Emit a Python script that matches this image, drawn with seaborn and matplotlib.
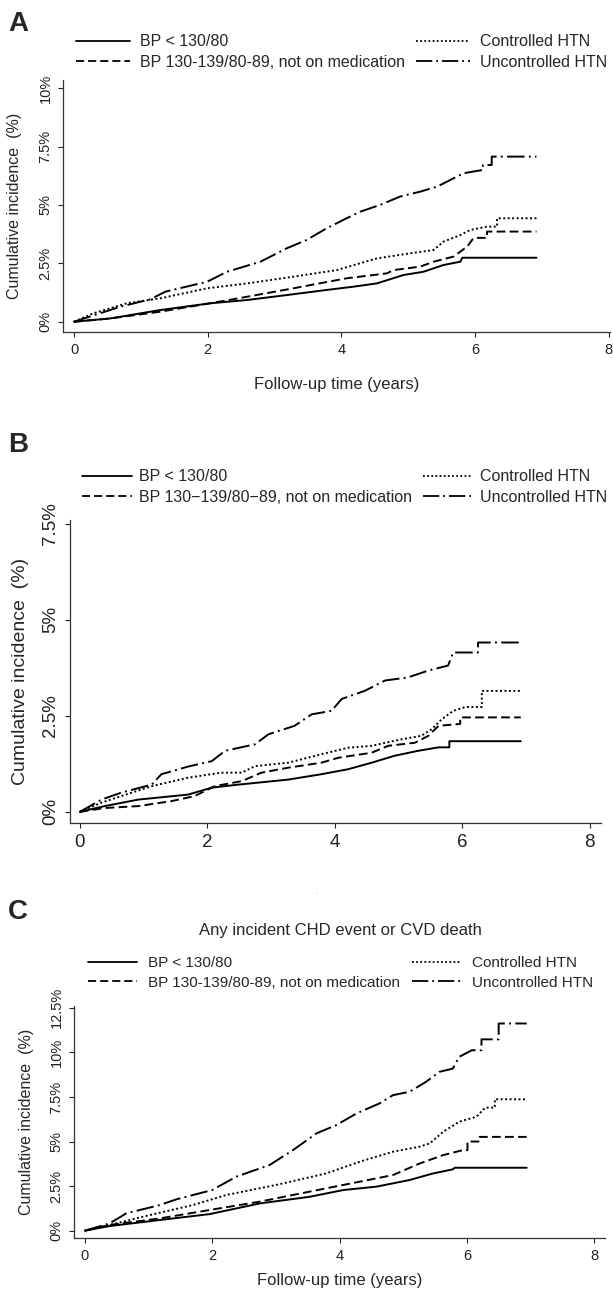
import pandas as pd
import seaborn as sns
import matplotlib.pyplot as plt

W, H = 613, 1292

groups = ['BP < 130/80', 'BP 130-139/80-89, not on medication',
          'Controlled HTN', 'Uncontrolled HTN']
groups_b = ['BP < 130/80', 'BP 130\u2212139/80\u221289, not on medication',
            'Controlled HTN', 'Uncontrolled HTN']

# panel A, cumulative incidence (%) vs follow-up years
a_bp_t = [0, 0.54, 1.29, 2.04, 2.59, 3.18, 3.78, 4.18, 4.53, 4.93, 5.23, 5.53, 5.78, 5.81, 6.92]
a_bp_y = [0, 0.14, 0.50, 0.79, 0.93, 1.14, 1.36, 1.50, 1.64, 2.00, 2.14, 2.43, 2.57, 2.74, 2.74]
a_pre_t = [0, 0.54, 1.29, 2.04, 2.59, 3.28, 4.08, 4.68, 4.78, 5.18, 5.38, 5.68, 5.88, 5.98, 6.18, 6.18, 6.92]
a_pre_y = [0, 0.14, 0.43, 0.79, 1.07, 1.43, 1.86, 2.07, 2.21, 2.36, 2.57, 2.79, 3.21, 3.59, 3.59, 3.86, 3.86]
a_ctl_t = [0, 0.29, 0.79, 1.29, 1.99, 2.59, 3.28, 3.93, 4.53, 5.03, 5.38, 5.53, 5.78, 5.93, 6.18, 6.33, 6.33, 6.92]
a_ctl_y = [0, 0.36, 0.79, 1.00, 1.43, 1.64, 1.93, 2.21, 2.71, 2.93, 3.07, 3.43, 3.71, 3.93, 4.07, 4.07, 4.43, 4.43]
a_unc_t = [0, 0.69, 1.14, 1.37, 1.99, 2.29, 2.79, 3.18, 3.48, 3.78, 4.03, 4.28, 4.58, 4.88, 5.18,
           5.43, 5.63, 5.83, 6.12, 6.12, 6.25, 6.25, 6.92]
a_unc_y = [0, 0.64, 0.96, 1.29, 1.71, 2.14, 2.57, 3.14, 3.50, 4.00, 4.36, 4.71, 5.00, 5.36, 5.57,
           5.78, 6.07, 6.36, 6.50, 6.71, 6.71, 7.07, 7.07]

# panel B
b_bp_t = [0, 0.39, 0.92, 1.70, 2.07, 2.49, 3.27, 3.79, 4.21, 4.58, 4.94, 5.31, 5.63, 5.80, 5.80, 6.92]
b_bp_y = [0, 0.15, 0.32, 0.45, 0.63, 0.71, 0.84, 0.98, 1.11, 1.28, 1.46, 1.59, 1.68, 1.68, 1.84, 1.84]
b_pre_t = [0, 0.39, 0.92, 1.44, 1.80, 2.12, 2.54, 2.85, 3.27, 3.79, 4.06, 4.58, 4.84, 5.26, 5.47,
           5.63, 5.97, 5.97, 6.92]
b_pre_y = [0, 0.10, 0.15, 0.28, 0.41, 0.67, 0.80, 1.02, 1.15, 1.28, 1.41, 1.54, 1.72, 1.80, 1.98,
           2.24, 2.29, 2.46, 2.46]
b_ctl_t = [0, 0.34, 0.65, 1.13, 1.70, 2.22, 2.54, 2.75, 3.27, 3.79, 4.21, 4.58, 5.05, 5.36, 5.52,
           5.68, 5.86, 6.05, 6.31, 6.31, 6.92]
b_ctl_y = [0, 0.24, 0.41, 0.67, 0.89, 1.02, 1.02, 1.19, 1.28, 1.50, 1.67, 1.72, 1.89, 1.98, 2.15,
           2.41, 2.63, 2.73, 2.73, 3.15, 3.15]
b_unc_t = [0, 0.34, 0.65, 1.13, 1.28, 1.70, 2.07, 2.28, 2.75, 2.96, 3.37, 3.64, 3.95, 4.11, 4.47,
           4.79, 5.15, 5.47, 5.78, 5.86, 6.25, 6.25, 6.92]
b_unc_y = [0, 0.32, 0.50, 0.71, 0.98, 1.18, 1.32, 1.59, 1.76, 2.02, 2.24, 2.54, 2.63, 2.94, 3.15,
           3.42, 3.50, 3.68, 3.81, 4.15, 4.15, 4.41, 4.41]

# panel C, any incident CHD event or CVD death
c_bp_t = [0, 0.39, 1.18, 1.96, 2.75, 3.53, 4.06, 4.58, 5.10, 5.47, 5.78, 5.81, 6.94]
c_bp_y = [0, 0.26, 0.60, 0.93, 1.53, 1.90, 2.28, 2.47, 2.84, 3.21, 3.44, 3.53, 3.53]
c_pre_t = [0, 0.39, 1.18, 1.96, 2.75, 3.53, 4.32, 4.84, 5.26, 5.63, 5.94, 6.01, 6.01, 6.20, 6.20, 6.94]
c_pre_y = [0, 0.32, 0.69, 1.16, 1.63, 2.19, 2.75, 3.12, 3.77, 4.24, 4.52, 4.52, 5.00, 5.00, 5.26, 5.26]
c_ctl_t = [0, 0.39, 0.92, 1.70, 2.22, 3.00, 3.79, 4.32, 4.84, 5.26, 5.42, 5.63, 5.88, 6.15, 6.29,
           6.44, 6.44, 6.94]
c_ctl_y = [0, 0.32, 0.79, 1.44, 2.00, 2.56, 3.21, 3.87, 4.43, 4.71, 4.90, 5.55, 6.11, 6.39, 6.90,
           6.90, 7.37, 7.37]
c_unc_t = [0, 0.39, 0.65, 1.18, 1.44, 2.00, 2.38, 2.90, 3.27, 3.64, 3.95, 4.27, 4.63, 4.84, 5.10,
           5.36, 5.57, 5.78, 5.88, 6.08, 6.23, 6.23, 6.50, 6.50, 6.94]
c_unc_y = [0, 0.41, 0.97, 1.44, 1.76, 2.28, 3.03, 3.68, 4.52, 5.46, 5.92, 6.58, 7.14, 7.60, 7.79,
           8.35, 8.91, 9.09, 9.75, 10.12, 10.12, 10.73, 10.73, 11.62, 11.62]

x_ticks = [0, 2, 4, 6, 8]
a_yticks = [0, 2.5, 5, 7.5, 10]
a_ylabels = ['0%', '2.5%', '5%', '7.5%', '10%']
b_yticks = [0, 2.5, 5, 7.5]
b_ylabels = ['0%', '2.5%', '5%', '7.5%']
c_yticks = [0, 2.5, 5, 7.5, 10, 12.5]
c_ylabels = ['0%', '2.5%', '5%', '7.5%', '10%', '12.5%']


def make_df(names, series):
    parts = []
    for name, (t, y) in zip(names, series):
        parts.append(pd.DataFrame({'time': t, 'ci': y, 'group': name}))
    return pd.concat(parts, ignore_index=True)


df_a = make_df(groups, [(a_bp_t, a_bp_y), (a_pre_t, a_pre_y), (a_ctl_t, a_ctl_y), (a_unc_t, a_unc_y)])
df_b = make_df(groups_b, [(b_bp_t, b_bp_y), (b_pre_t, b_pre_y), (b_ctl_t, b_ctl_y), (b_unc_t, b_unc_y)])
df_c = make_df(groups, [(c_bp_t, c_bp_y), (c_pre_t, c_pre_y), (c_ctl_t, c_ctl_y), (c_unc_t, c_unc_y)])

sns.set_style('ticks')
plt.rcParams['font.family'] = ['Liberation Sans', 'DejaVu Sans']

fig = plt.figure(figsize=(W / 100, H / 100), dpi=100)


def rect(l, t, r, b):
    return [l / W, 1 - b / H, (r - l) / W, (b - t) / H]


def panel(df, names, box, xlim, ylim, yticks, ylabels, tick_fs, ylab_fs, ylab_x,
          leg_x, leg_y, leg_fs, leg_hl, leg_pad, leg_cs, xlabel=None, xlab_y=None):
    ax = fig.add_axes(rect(*box))
    dash_map = {names[0]: '', names[1]: (4.5, 2.2), names[2]: (1, 1.3), names[3]: (9, 2.2, 1, 2.2)}
    sns.lineplot(data=df, x='time', y='ci', style='group', style_order=names, dashes=dash_map,
                 color='black', linewidth=1.4, estimator=None, sort=False, ax=ax)
    handles, labels = ax.get_legend_handles_labels()
    ax.get_legend().remove()
    for h in handles:
        h.set_color('black')
        h.set_linewidth(1.3)
    ax.legend(handles, labels, ncol=2, loc='center left',
              bbox_to_anchor=(leg_x / W, 1 - leg_y / H), bbox_transform=fig.transFigure,
              frameon=False, borderpad=0, borderaxespad=0, fontsize=leg_fs,
              handlelength=leg_hl, handletextpad=leg_pad, columnspacing=leg_cs,
              labelspacing=0.33)
    ax.set_xlim(*xlim)
    ax.set_ylim(*ylim)
    ax.set_xticks(x_ticks)
    ax.set_xticklabels([str(v) for v in x_ticks], fontsize=tick_fs)
    ax.set_yticks(yticks)
    ax.set_yticklabels(ylabels, fontsize=tick_fs, rotation=90, va='center', ha='right')
    ax.tick_params(length=3.6, width=0.8, pad=4, colors='#222222')
    sns.despine(ax=ax)
    for s in ['left', 'bottom']:
        ax.spines[s].set_color('#333333')
        ax.spines[s].set_linewidth(0.9)
    ax.set_ylabel('Cumulative incidence  (%)', fontsize=ylab_fs, va='center')
    ax.yaxis.set_label_coords(ylab_x / W, 1 - 0.5 * (box[1] + box[3]) / H, transform=fig.transFigure)
    if xlabel:
        ax.set_xlabel(xlabel, fontsize=12, va='center')
        ax.xaxis.set_label_coords(0.5 * (box[0] + box[2]) / W, 1 - xlab_y / H, transform=fig.transFigure)
    else:
        ax.set_xlabel('')
    return ax


panel(df_a, groups, (63, 80, 610, 332), (-0.165, 8.02), (-0.44, 10.35), a_yticks, a_ylabels,
      10.5, 11.5, 15, 76, 52, 11.5, 3.4, 0.6, 0.7, 'Follow-up time (years)', 384)
panel(df_b, groups_b, (70, 520, 601, 823), (-0.154, 8.18), (-0.29, 7.6), b_yticks, b_ylabels,
      13.5, 14, 21, 82, 487, 11.5, 3.1, 0.45, 0.7)
panel(df_c, groups, (74, 1006, 605, 1238), (-0.17, 8.17), (-0.41, 12.6), c_yticks, c_ylabels,
      10.5, 11.5, 27, 88, 973, 11, 3.2, 0.75, 0.75, 'Follow-up time (years)', 1280)

fig.text(8 / W, 1 - 24 / H, 'A', fontsize=20, fontweight='bold', va='center')
fig.text(8 / W, 1 - 445 / H, 'B', fontsize=20, fontweight='bold', va='center')
fig.text(8 / W, 1 - 912 / H, 'C', fontsize=20, fontweight='bold', va='center')
fig.text(340 / W, 1 - 931 / H, 'Any incident CHD event or CVD death', fontsize=12,
         ha='center', va='center')
fig.text(316 / W, 1 - 892 / H, '.', fontsize=6, color='#999999', ha='center', va='center')

fig.savefig('out.png', dpi=100)
